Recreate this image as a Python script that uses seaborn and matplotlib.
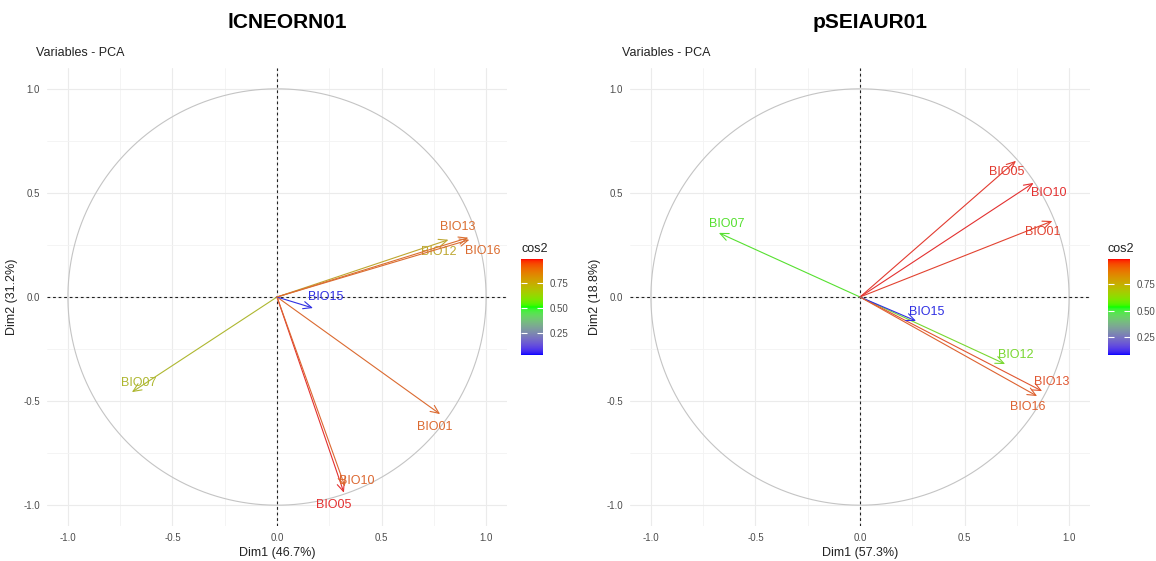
import numpy as np
import matplotlib
matplotlib.use('Agg')
import matplotlib.pyplot as plt
from matplotlib.colors import ListedColormap, Normalize
import seaborn as sns

VARIABLES = ['BIO01', 'BIO05', 'BIO07', 'BIO10', 'BIO12', 'BIO13', 'BIO15', 'BIO16']

# lCNEORN01 loadings
LEFT_DIM1 = [0.78, 0.32, -0.694, 0.325, 0.82, 0.915, 0.172, 0.92]
LEFT_DIM2 = [-0.5625, -0.94, -0.457, -0.91, 0.275, 0.285, -0.053, 0.275]
LEFT_VAR_EXPL = (46.7, 31.2)

# pSEIAUR01 loadings
RIGHT_DIM1 = [0.92, 0.746, -0.675, 0.83, 0.694, 0.871, 0.268, 0.847]
RIGHT_DIM2 = [0.365, 0.654, 0.308, 0.548, -0.322, -0.452, -0.115, -0.476]
RIGHT_VAR_EXPL = (57.3, 18.8)

# where the repelled labels sit relative to the arrow tips
LEFT_NUDGE = {
    'BIO01': (-0.024, -0.062), 'BIO05': (-0.048, -0.058), 'BIO07': (0.033, 0.043),
    'BIO10': (0.057, 0.024), 'BIO12': (-0.048, -0.058), 'BIO13': (-0.053, 0.053),
    'BIO15': (0.062, 0.053), 'BIO16': (0.062, -0.053),
}
RIGHT_NUDGE = {
    'BIO01': (-0.048, -0.053), 'BIO05': (-0.043, -0.053), 'BIO07': (0.038, 0.043),
    'BIO10': (0.072, -0.048), 'BIO12': (0.053, 0.043), 'BIO13': (0.048, 0.043),
    'BIO15': (0.053, 0.043), 'BIO16': (-0.043, -0.053),
}

TICK_GREY = '#4D4D4D'


def srgb_to_lab(rgb):
    c = np.asarray(rgb, dtype=float)
    lin = np.where(c <= 0.04045, c / 12.92, ((c + 0.055) / 1.055) ** 2.4)
    m = np.array([[0.4124, 0.3576, 0.1805],
                  [0.2126, 0.7152, 0.0722],
                  [0.0193, 0.1192, 0.9505]])
    xyz = m @ lin / np.array([0.95047, 1.0, 1.08883])
    f = np.where(xyz > 0.008856, np.cbrt(xyz), 7.787 * xyz + 16 / 116)
    return np.array([116 * f[1] - 16, 500 * (f[0] - f[1]), 200 * (f[1] - f[2])])


def lab_to_srgb(lab):
    L, a, b = lab
    fy = (L + 16) / 116
    fx = fy + a / 500
    fz = fy - b / 200
    f = np.array([fx, fy, fz])
    xyz = np.where(f ** 3 > 0.008856, f ** 3, (f - 16 / 116) / 7.787)
    xyz = xyz * np.array([0.95047, 1.0, 1.08883])
    m = np.array([[3.2406, -1.5372, -0.4986],
                  [-0.9689, 1.8758, 0.0415],
                  [0.0557, -0.2040, 1.0570]])
    lin = np.clip(m @ xyz, 0, 1)
    c = np.where(lin <= 0.0031308, 12.92 * lin, 1.055 * lin ** (1 / 2.4) - 0.055)
    return np.clip(c, 0, 1)


def lab_ramp(colours, n=256):
    labs = [srgb_to_lab(matplotlib.colors.to_rgb(c)) for c in colours]
    out = []
    for t in np.linspace(0, 1, n):
        seg = min(int(t * (len(labs) - 1)), len(labs) - 2)
        u = t * (len(labs) - 1) - seg
        out.append(lab_to_srgb(labs[seg] * (1 - u) + labs[seg + 1] * u))
    return ListedColormap(out)


CMAP = lab_ramp(['blue', '#00FF00', 'red'])


def muted(rgba, amount=0.3, grey=0.63):
    # the source image is a soft jpeg, the marks read a bit washed out
    r, g, b = rgba[:3]
    return tuple(v * (1 - amount) + grey * amount for v in (r, g, b))


def pca_panel(ax, cax, dim1, dim2, nudge, expl):
    dim1 = np.array(dim1)
    dim2 = np.array(dim2)
    cos2 = dim1 ** 2 + dim2 ** 2
    norm = Normalize(cos2.min(), cos2.max())

    ax.set_xlim(-1.1, 1.1)
    ax.set_ylim(-1.1, 1.1)
    ax.set_xticks([-1.0, -0.5, 0.0, 0.5, 1.0])
    ax.set_yticks([-1.0, -0.5, 0.0, 0.5, 1.0])
    ax.set_xticks([-0.75, -0.25, 0.25, 0.75], minor=True)
    ax.set_yticks([-0.75, -0.25, 0.25, 0.75], minor=True)
    ax.set_xticklabels(['-1.0', '-0.5', '0.0', '0.5', '1.0'])
    ax.set_yticklabels(['-1.0', '-0.5', '0.0', '0.5', '1.0'])
    ax.grid(which='major', color='#EBEBEB', lw=0.8)
    ax.grid(which='minor', color='#F3F3F3', lw=0.6)
    ax.set_axisbelow(True)
    for s in ax.spines.values():
        s.set_visible(False)
    ax.tick_params(which='major', length=2, width=0.8, color='#555555',
                   labelsize=7, labelcolor=TICK_GREY, pad=3)
    ax.tick_params(which='minor', length=0)

    theta = np.linspace(0, 2 * np.pi, 200)
    sns.lineplot(x=np.cos(theta), y=np.sin(theta), sort=False, ax=ax,
                 color='#C4C4C4', lw=0.8, estimator=None)
    ax.axhline(0, color='#222222', lw=0.8, ls=(0, (2.5, 2.5)))
    ax.axvline(0, color='#222222', lw=0.8, ls=(0, (2.5, 2.5)))

    for name, x, y, c2 in zip(VARIABLES, dim1, dim2, cos2):
        col = muted(CMAP(norm(c2)))
        ax.annotate('', xy=(x, y), xytext=(0, 0),
                    arrowprops=dict(arrowstyle='->,head_length=0.5,head_width=0.22',
                                    color=col, lw=0.8, shrinkA=0, shrinkB=0))
        dx, dy = nudge[name]
        ax.text(x + dx, y + dy, name, color=col, ha='center', va='center',
                fontsize=9)

    ax.set_xlabel(f'Dim1 ({expl[0]}%)', fontsize=9, color='#222222', labelpad=3)
    ax.set_ylabel(f'Dim2 ({expl[1]}%)', fontsize=9, color='#222222', labelpad=4)

    # colour bar limited to the data range of cos2
    grad = np.linspace(cos2.min(), cos2.max(), 256)[:, None]
    cax.imshow(grad, cmap=CMAP, norm=norm, aspect='auto', origin='lower',
               extent=[0, 1, cos2.min(), cos2.max()])
    cax.set_xticks([])
    cax.set_yticks([0.25, 0.5, 0.75])
    cax.set_yticklabels(['0.25', '0.50', '0.75'])
    cax.yaxis.tick_right()
    cax.tick_params(axis='y', direction='in', length=4, width=0.8, color='white',
                    left=True, right=True, labelleft=False, labelright=True,
                    labelsize=7, labelcolor=TICK_GREY, pad=5)
    for s in cax.spines.values():
        s.set_visible(False)
    cax.set_title('cos2', fontsize=9, color='#222222', loc='left', pad=5)


sns.set_theme(style='white')
plt.rcParams['font.family'] = ['Liberation Sans', 'DejaVu Sans']

W, H = 1156, 561
fig = plt.figure(figsize=(W / 100, H / 100), dpi=100)

ax_l = fig.add_axes([47 / W, 35 / H, 460 / W, 458 / H])
cax_l = fig.add_axes([521 / W, 206 / H, 22 / W, 96 / H])
ax_r = fig.add_axes([630 / W, 35 / H, 460 / W, 458 / H])
cax_r = fig.add_axes([1108 / W, 206 / H, 22 / W, 96 / H])

pca_panel(ax_l, cax_l, LEFT_DIM1, LEFT_DIM2, LEFT_NUDGE, LEFT_VAR_EXPL)
pca_panel(ax_r, cax_r, RIGHT_DIM1, RIGHT_DIM2, RIGHT_NUDGE, RIGHT_VAR_EXPL)

fig.text(287 / W, 1 - 22 / H, 'lCNEORN01', ha='center', va='center',
         fontsize=15, fontweight='bold', color='black')
fig.text(870 / W, 1 - 22 / H, 'pSEIAUR01', ha='center', va='center',
         fontsize=15, fontweight='bold', color='black')
fig.text(36 / W, 1 - 53 / H, 'Variables - PCA', ha='left', va='center',
         fontsize=9, color='#222222')
fig.text(622 / W, 1 - 53 / H, 'Variables - PCA', ha='left', va='center',
         fontsize=9, color='#222222')

fig.savefig('out.png', dpi=100, facecolor='white')
